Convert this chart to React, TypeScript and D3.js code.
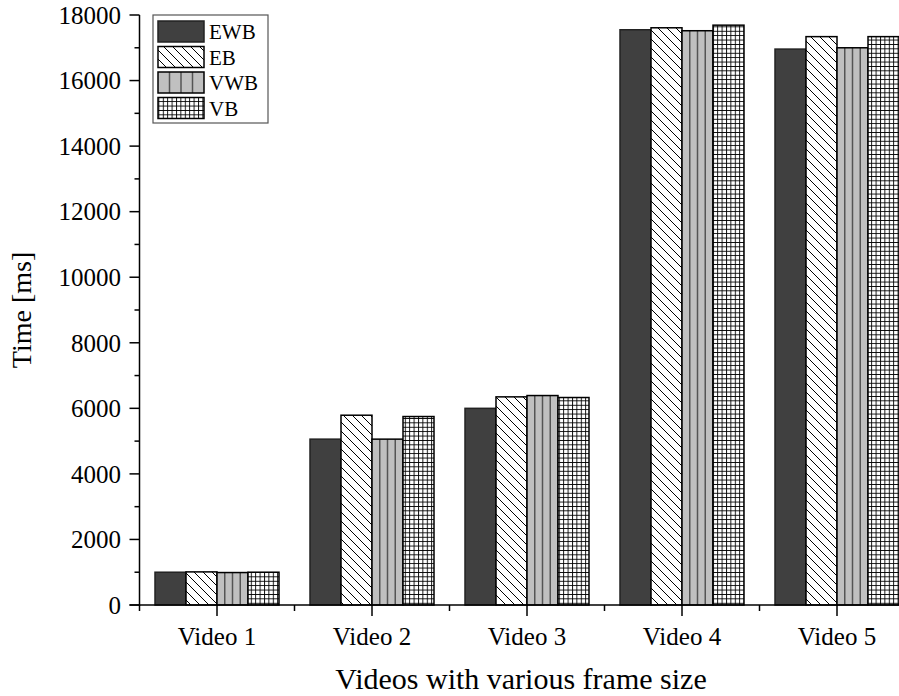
import React from 'react';
import * as d3 from 'd3';

const categories = ['Video 1', 'Video 2', 'Video 3', 'Video 4', 'Video 5'];
const series = ['EWB', 'EB', 'VWB', 'VB'];
const ewb = [1000, 5060, 6000, 17550, 16960];
const eb = [1010, 5790, 6350, 17610, 17340];
const vwb = [990, 5060, 6390, 17520, 17000];
const vb = [1000, 5750, 6330, 17690, 17340];
const yTicks = [0, 2000, 4000, 6000, 8000, 10000, 12000, 14000, 16000, 18000];
const yMinor = [1000, 3000, 5000, 7000, 9000, 11000, 13000, 15000, 17000];

const W = 899;
const H = 696;
const FONT = '"Liberation Serif", "Times New Roman", Times, serif';

export default function App() {
  const values: Record<string, number[]> = { EWB: ewb, EB: eb, VWB: vwb, VB: vb };
  const x = d3.scaleBand<string>().domain(categories).range([139.5, 914.5]).paddingInner(0.2).paddingOuter(0.1);
  const inner = d3.scaleBand<string>().domain(series).range([0, x.bandwidth()]);
  const y = d3.scaleLinear().domain([0, 18000]).range([605, 15]);
  const step = x.step();
  const fillOf = (s: string) =>
    s === 'EWB' ? '#404040' : s === 'EB' ? 'url(#diag)' : s === 'VWB' ? '#c0c0c0' : 'url(#grid)';

  const renderBar = (s: string, bx: number, by: number, bw: number, bh: number, key: string) => (
    <g key={key}>
      <rect x={bx} y={by} width={bw} height={bh} fill={fillOf(s)} />
      {s === 'VWB' &&
        [0.25, 0.5, 0.75].map((f) => (
          <line key={f} x1={bx + bw * f} x2={bx + bw * f} y1={by} y2={by + bh} stroke="#555" strokeWidth={1.5} />
        ))}
      <rect x={bx} y={by} width={bw} height={bh} fill="none" stroke={s === 'EWB' ? '#222' : '#000'} strokeWidth={1.5} />
    </g>
  );

  const x0 = 139.5;
  const y0 = y(0);
  const minorX = categories.map((c) => (x(c) as number) - step * 0.1);

  return (
    <svg width={W} height={H} style={{ position: 'absolute', left: 0, top: 0 }} fontFamily={FONT}>
      <defs>
        <pattern id="diag" patternUnits="userSpaceOnUse" width={9} height={9}>
          <rect width={9} height={9} fill="#fff" />
          <path d="M0,0 L9,9 M-3,6 L3,12 M6,-3 L12,3" stroke="#000" strokeWidth={1} />
        </pattern>
        <pattern id="grid" patternUnits="userSpaceOnUse" width={4.4} height={4.4}>
          <rect width={4.4} height={4.4} fill="#fff" />
          <path d="M0,0.5 H4.4 M0.5,0 V4.4" stroke="#000" strokeWidth={0.9} />
        </pattern>
      </defs>
      <rect width={W} height={H} fill="#fff" />
      {categories.map((c, i) =>
        series.map((s) => {
          const v = values[s][i];
          const bx = (x(c) as number) + (inner(s) as number);
          return renderBar(s, bx, y(v), inner.bandwidth(), y0 - y(v), c + s);
        })
      )}
      {/* y axis */}
      <line x1={x0} x2={x0} y1={y0 + 1} y2={y(18000)} stroke="#000" strokeWidth={1.5} />
      {yTicks.map((t) => (
        <g key={t}>
          <line x1={x0 - 10} x2={x0} y1={y(t)} y2={y(t)} stroke="#000" strokeWidth={1.5} />
          <text x={121} y={y(t)} dy="0.35em" textAnchor="end" fontSize={25}>
            {t}
          </text>
        </g>
      ))}
      {yMinor.map((t) => (
        <line key={t} x1={x0 - 5} x2={x0} y1={y(t)} y2={y(t)} stroke="#000" strokeWidth={1.5} />
      ))}
      {/* x axis */}
      <line x1={x0 - 10} x2={W} y1={y0} y2={y0} stroke="#000" strokeWidth={1.5} />
      {categories.map((c) => {
        const cx = (x(c) as number) + x.bandwidth() / 2;
        return (
          <g key={c}>
            <line x1={cx} x2={cx} y1={y0} y2={y0 + 11} stroke="#000" strokeWidth={1.5} />
            <text x={cx} y={645} textAnchor="middle" fontSize={25}>
              {c}
            </text>
          </g>
        );
      })}
      {minorX.map((mx, i) => (
        <line key={i} x1={mx} x2={mx} y1={y0} y2={y0 + 6} stroke="#000" strokeWidth={1.5} />
      ))}
      <text x={521} y={689} textAnchor="middle" fontSize={30}>
        Videos with various frame size
      </text>
      <text transform={`translate(31,${(y(0) + y(18000)) / 2}) rotate(-90)`} textAnchor="middle" fontSize={28}>
        Time [ms]
      </text>
      {/* legend */}
      <rect x={153} y={15} width={115} height={108} fill="#fff" stroke="#555" strokeWidth={1.2} />
      {series.map((s, i) => {
        const ly = 21 + i * 25.5;
        return (
          <g key={s}>
            {renderBar(s, 158, ly, 46, 21, 'l' + s)}
            <text x={209} y={ly + 18} fontSize={21}>
              {s}
            </text>
          </g>
        );
      })}
    </svg>
  );
}
